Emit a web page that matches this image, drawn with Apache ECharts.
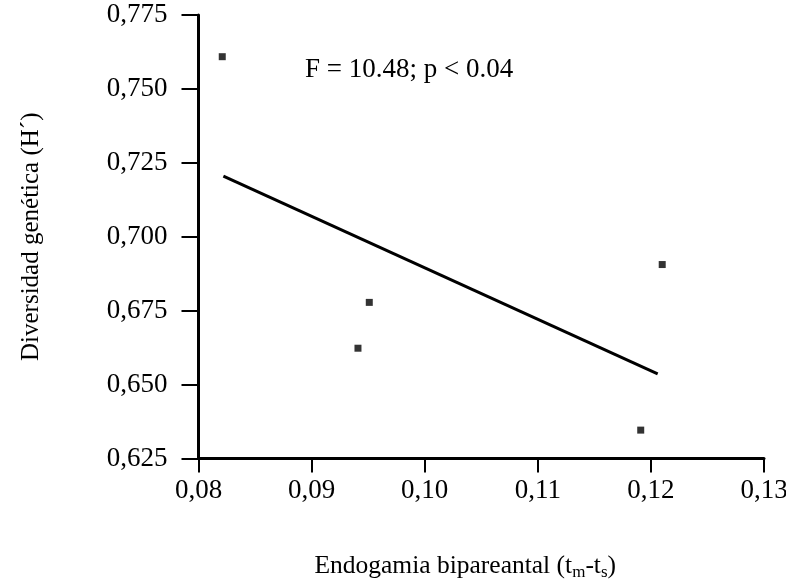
<!DOCTYPE html>
<html>
<head>
<meta charset="utf-8">
<title>Diversidad genética vs endogamia</title>
<script src="https://cdn.jsdelivr.net/npm/echarts@6/dist/echarts.min.js"></script>
<style>
  html, body { margin: 0; padding: 0; background: #fff; }
  #chart { width: 786px; height: 579px; }
</style>
</head>
<body>
<div id="chart"></div>
<script>
// puntos observados (endogamia, diversidad)
var endogamia = [0.0821, 0.0941, 0.0951, 0.1191, 0.1210];
var diversidad = [0.7609, 0.6623, 0.6778, 0.6346, 0.6906];
// recta de regresion, extremos
var rectaX = [0.0822, 0.1206];
var rectaY = [0.7205, 0.6536];
var anotacion = 'F = 10.48; p < 0.04';

var fuente = '"Liberation Serif", "Times New Roman", serif';
var puntos = [];
for (var i = 0; i < endogamia.length; i++) puntos.push([endogamia[i], diversidad[i]]);
var recta = [];
for (var j = 0; j < rectaX.length; j++) recta.push([rectaX[j], rectaY[j]]);

var chart = echarts.init(document.getElementById('chart'));
chart.setOption({
  animation: false,
  backgroundColor: '#fff',
  grid: { left: 198.5, right: 22, top: 15, bottom: 120.5, containLabel: false, outerBoundsMode: 'none' },
  xAxis: {
    type: 'value', min: 0.08, max: 0.13, interval: 0.01,
    splitLine: { show: false },
    axisLine: { lineStyle: { color: '#000', width: 3 } },
    axisTick: { inside: false, length: 14, lineStyle: { color: '#000', width: 2 } },
    axisLabel: {
      margin: 19, color: '#000', fontFamily: fuente, fontSize: 27,
      formatter: function (v) { return v.toFixed(2).replace('.', ','); }
    },
    name: '{n|Endogamia bipareantal (t}{s|m}{n|-t}{s|s}{n|)}',
    nameLocation: 'middle', nameGap: 92,
    nameTextStyle: {
      padding: [0, 32, 0, 0],
      rich: {
        n: { fontFamily: fuente, fontSize: 25.5, color: '#000' },
        s: { fontFamily: fuente, fontSize: 17, color: '#000', padding: [14, 0, 0, 0] }
      }
    }
  },
  yAxis: {
    type: 'value', min: 0.625, max: 0.775, interval: 0.025,
    splitLine: { show: false },
    axisLine: { lineStyle: { color: '#000', width: 3 } },
    axisTick: { inside: false, length: 17, lineStyle: { color: '#000', width: 2 } },
    axisLabel: {
      margin: 31, color: '#000', fontFamily: fuente, fontSize: 27,
      formatter: function (v) { return v.toFixed(3).replace('.', ','); }
    },
    name: 'Diversidad genética (H´)',
    nameLocation: 'middle', nameGap: 155, nameRotate: 90,
    nameTextStyle: { fontFamily: fuente, fontSize: 25, color: '#000' }
  },
  graphic: [{
    type: 'text', left: 305, top: 56,
    style: { text: anotacion, font: '27px ' + fuente, fill: '#000' }
  }],
  series: [
    {
      type: 'scatter', data: puntos, symbol: 'rect', symbolSize: 7,
      itemStyle: { color: '#000' }
    },
    {
      type: 'line', data: recta, symbol: 'none',
      lineStyle: { color: '#000', width: 3 }
    }
  ]
});
</script>
</body>
</html>
